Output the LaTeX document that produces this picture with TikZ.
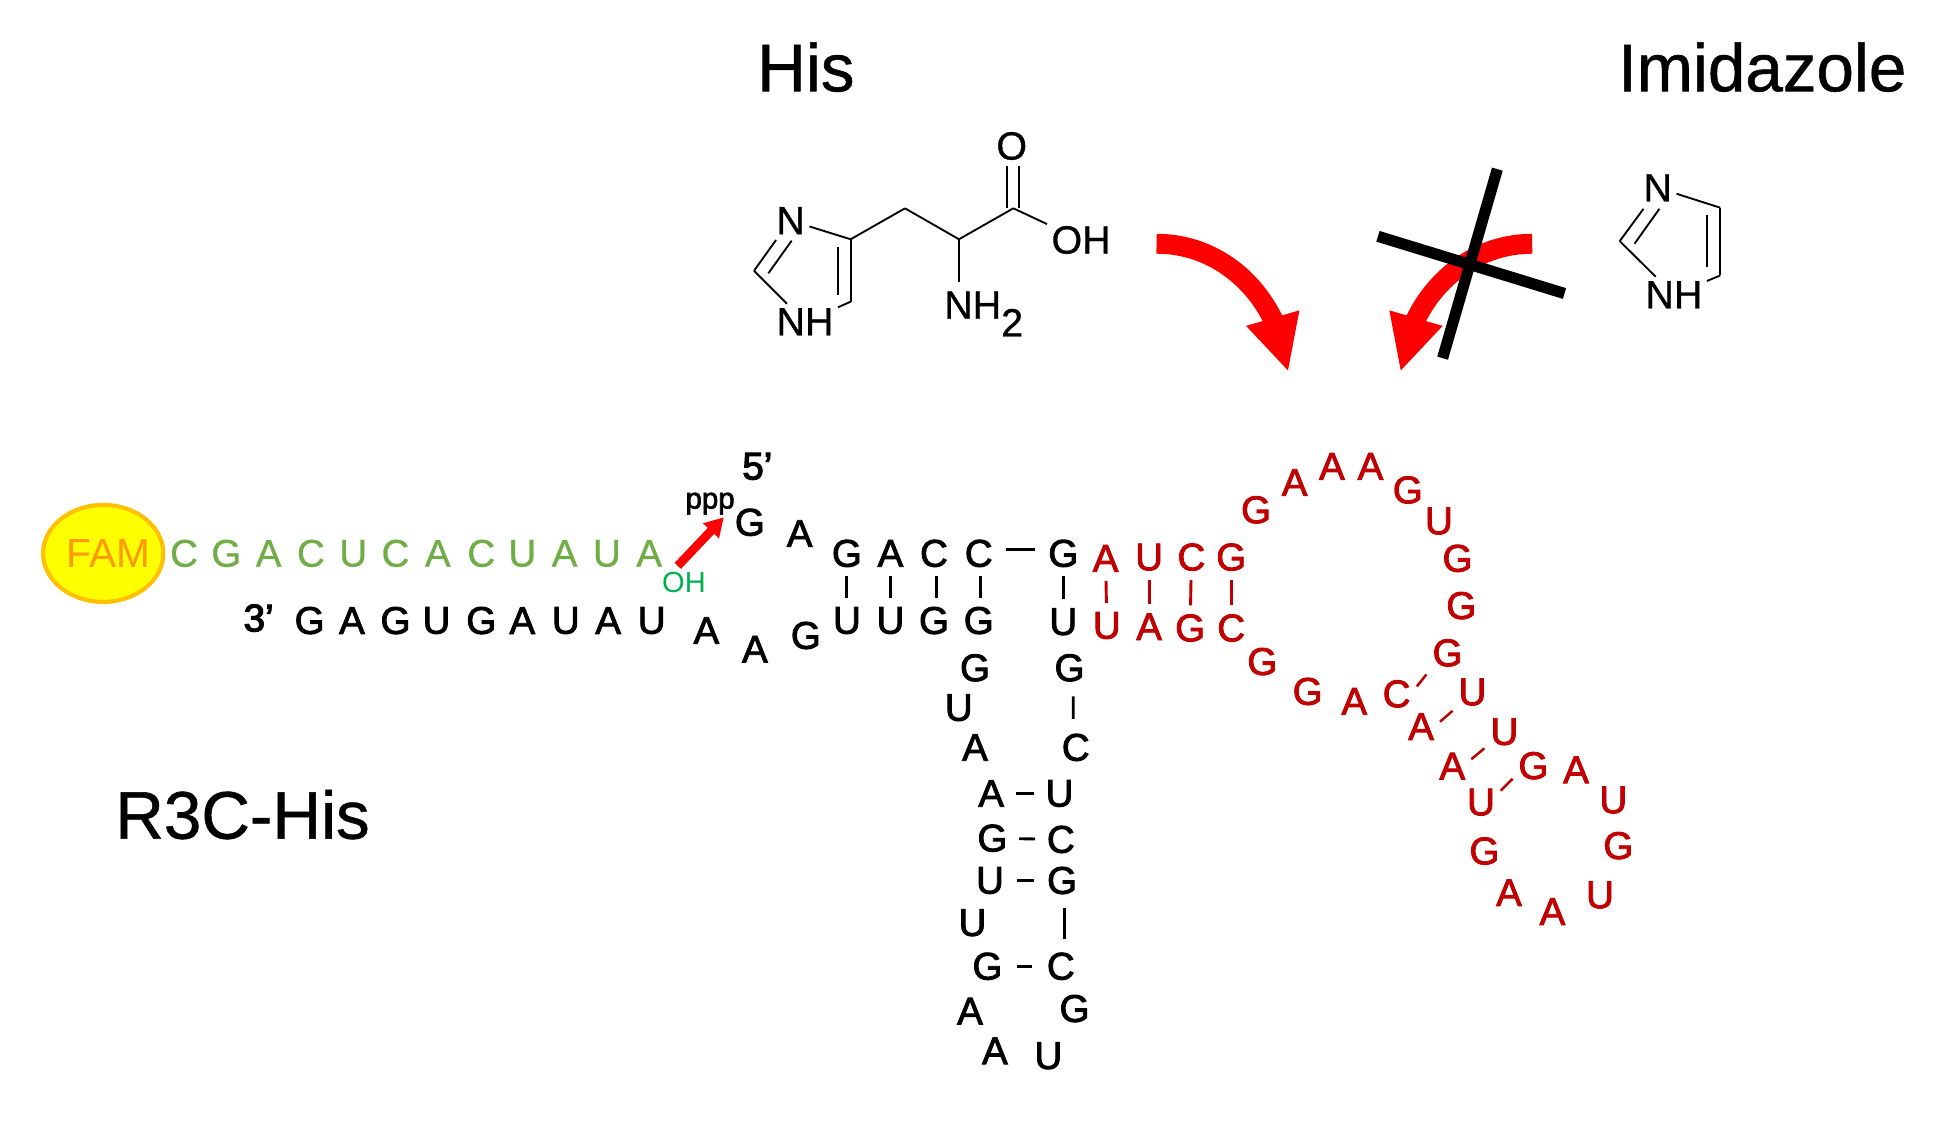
\documentclass[tikz,border=0pt]{standalone}
\usepackage{fontspec}
\usepackage{xcolor}
\usepackage{tikz}
\usetikzlibrary{arrows.meta,bending,shapes.geometric}
\setmainfont{Liberation Sans}
\newfontfamily\seqfont[FakeBold=2.2]{Liberation Sans}
\newfontfamily\endfont[FakeBold=3]{Liberation Sans}
\newfontfamily\softfont[FakeBold=0.8]{Liberation Sans}
\definecolor{leaf}{HTML}{70AD47}
\definecolor{oh}{HTML}{00B050}
\definecolor{deep}{HTML}{C00000}
\definecolor{famfill}{HTML}{FFFF00}
\definecolor{famline}{HTML}{FFC000}
\definecolor{famtext}{HTML}{FF9900}
\definecolor{hot}{HTML}{FF0000}

\begin{document}
\begin{tikzpicture}[x=0.6pt,y=-0.6pt]
\tikzset{k/.style={font=\seqfont\fontsize{18.6}{20}\selectfont,inner sep=0pt}, r/.style={k,text=deep}, g/.style={font=\softfont\fontsize{18.6}{20}\selectfont,inner sep=0pt,text=leaf}, title/.style={font=\softfont\fontsize{32.5}{36}\selectfont,inner sep=0pt}, atom/.style={font=\softfont\fontsize{19}{21}\selectfont,inner sep=2pt}, bond/.style={line width=0.9pt}, bp/.style={line width=1.4pt,shorten >=#1,shorten <=#1}, bpr/.style={bp=#1,color=deep}, big/.style={line width=9.6pt,color=hot,-{Triangle[length=27pt,width=24.6pt,flex]}}, bar/.style={line width=5.4pt}}
\useasboundingbox (0,0) rectangle (1568,909);
% titles
\node[title] (his) at (648,54) {His};
\node[title] (imi) at (1417,54) {Imidazole};
\node[title] (name) at (195,655) {R3C-His};
% histidine
\node[atom] (hn) at (635.8,177.4) {N}; \node[atom] (hnh) at (647.3,258.7) {NH}; \node[atom] (ho) at (813.5,117.4) {O}; \node[atom] (hoh) at (869.3,193) {OH};
\node[atom,inner sep=0pt] (hnt) at (791,252.5) {NH\raisebox{-0.45em}{2}};
\coordinate (hc4) at (684,192.4); \coordinate (hc5) at (684,242.6); \coordinate (hc2) at (606.3,217.7); \coordinate (hcb) at (727.7,167.5); \coordinate (hca) at (771.1,192.4); \coordinate (hcc) at (814.8,167.5);
\coordinate (hna) at (624,193); \coordinate (hnb) at (636.6,193.5); \coordinate (hc2i) at (617.8,219.8); \coordinate (hc4i) at (674.1,198.4); \coordinate (hc5i) at (674.1,237.2); \coordinate (hnte) at (771.1,226.5);
\coordinate (hcl) at (809.5,167.5); \coordinate (hcr) at (819.4,167.5); \coordinate (hol) at (809.5,133.5); \coordinate (hor) at (819.4,133.5);
\draw[bond] (hn)--(hc4);\draw[bond] (hc4)--(hc5);\draw[bond] (hc5)--(hnh);\draw[bond] (hnh)--(hc2);\draw[bond] (hc2)--(hna);\draw[bond] (hc2i)--(hnb);\draw[bond] (hc4i)--(hc5i);
\draw[bond] (hc4)--(hcb);\draw[bond] (hcb)--(hca);\draw[bond] (hca)--(hcc);\draw[bond] (hca)--(hnte);\draw[bond] (hcc)--(hoh);\draw[bond] (hcl)--(hol);\draw[bond] (hcr)--(hor);
% imidazole
\node[atom] (in) at (1333,151) {N}; \node[atom] (inh) at (1346,237) {NH};
\coordinate (ic2) at (1302.4,193.9); \coordinate (ic4) at (1383.2,167); \coordinate (ic5) at (1383.2,221.5); \coordinate (ina) at (1321.5,167.9); \coordinate (inb) at (1334.3,167.9); \coordinate (ic2i) at (1314.3,196); \coordinate (ic4i) at (1372.6,173.2); \coordinate (ic5i) at (1372.6,214.8);
\draw[bond] (in)--(ic4);\draw[bond] (ic4)--(ic5);\draw[bond] (ic5)--(inh);\draw[bond] (inh)--(ic2);\draw[bond] (ic2)--(ina);\draw[bond] (ic2i)--(inb);\draw[bond] (ic4i)--(ic5i);
% big arrows and the cross
\coordinate (la) at (930,196); \coordinate (lb) at (1036,299); \coordinate (ra) at (1232,196); \coordinate (rb) at (1126,299);
\draw[big] (la) .. controls (985,196) and (1029,240) .. (lb);
\draw[big] (ra) .. controls (1177,196) and (1133,240) .. (rb);
\coordinate (xa) at (1108,190); \coordinate (xb) at (1258,236); \coordinate (xc) at (1204,136); \coordinate (xd) at (1160,288);
\draw[bar] (xa)--(xb);\draw[bar] (xc)--(xd);
% FAM strand
\node[draw=famline,fill=famfill,line width=2pt,ellipse,minimum width=58pt,minimum height=46.8pt,inner sep=0pt,font=\fontsize{19.6}{21}\selectfont,text=famtext] (fam) at (83,445) {\makebox[0pt]{\hspace*{5pt}FAM}};
\node[g] (g1) at (148,445) {C}; \node[g] (g2) at (182,445) {G}; \node[g] (g3) at (216,445) {A}; \node[g] (g4) at (250,445) {C}; \node[g] (g5) at (284,445) {U}; \node[g] (g6) at (318,445) {C}; \node[g] (g7) at (352,445) {A}; \node[g] (g8) at (387,445) {C}; \node[g] (g9) at (420,445) {U}; \node[g] (g10) at (454,445) {A}; \node[g] (g11) at (488,445) {U}; \node[g] (g12) at (522,445) {A};
\node[font=\fontsize{14}{16}\selectfont,text=oh,inner sep=0pt] (ohg) at (550,468) {OH};
\node[font=\seqfont\fontsize{14.2}{16}\selectfont,inner sep=0pt] (ppp) at (571,405) {ppp};
\coordinate (oa) at (545,455); \coordinate (ob) at (582,416);
\draw[line width=4.2pt,hot,-{Triangle[length=9pt,width=10pt]}] (oa)--(ob);
% black strand
\node[font=\endfont\fontsize{18.6}{20}\selectfont,inner sep=0pt] (three) at (208,497) {3’}; \node[font=\endfont\fontsize{18.6}{20}\selectfont,inner sep=0pt] (five) at (609,375) {5’};
\node[k] (b1) at (249,499) {G}; \node[k] (b2) at (283,499) {A}; \node[k] (b3) at (318,499) {G}; \node[k] (b4) at (351,499) {U}; \node[k] (b5) at (387,499) {G}; \node[k] (b6) at (420,499) {A}; \node[k] (b7) at (455,499) {U}; \node[k] (b8) at (489,499) {A}; \node[k] (b9) at (524,499) {U}; \node[k] (b10) at (568,507) {A}; \node[k] (b11) at (607,522) {A}; \node[k] (b12) at (648,511) {G};
\node[k] (t1) at (603,420) {G}; \node[k] (t2) at (643,429) {A}; \node[k] (t3) at (681,445) {G}; \node[k] (t4) at (716,445) {A}; \node[k] (t5) at (751,445) {C}; \node[k] (t6) at (787,445) {C}; \node[k] (t7) at (855,445) {G};
\node[k] (u3) at (681,499) {U}; \node[k] (u4) at (716,499) {U}; \node[k] (u5) at (751,499) {G}; \node[k] (u6) at (787,499) {G}; \node[k] (u7) at (855,500) {U};
\draw[bp=4.2pt] (t3)--(u3);\draw[bp=4.2pt] (t4)--(u4);\draw[bp=4.2pt] ([xshift=1pt]t5.south)--([xshift=1pt]u5.north);\draw[bp=4.2pt] ([xshift=1pt]t6.south)--([xshift=1pt]u6.north);\draw[bp=4.2pt] (t7)--(u7);\draw[bp=6pt] ([yshift=2pt]t6.east)--([yshift=2pt]t7.west);
% lower stem
\node[k] (s1) at (784,537) {G}; \node[k] (s2) at (860,537) {G}; \node[k] (s3) at (771,569) {U}; \node[k] (s4) at (784,601) {A}; \node[k] (s5) at (865,601) {C}; \node[k] (s6) at (797,638) {A}; \node[k] (s7) at (852,638) {U}; \node[k] (s8) at (798,674) {G}; \node[k] (s9) at (853,675) {C}; \node[k] (s10) at (796,708) {U}; \node[k] (s11) at (854,708) {G}; \node[k] (s12) at (782,742) {U}; \node[k] (s13) at (794,777) {G}; \node[k] (s14) at (853,777) {C}; \node[k] (s15) at (780,813) {A}; \node[k] (s16) at (864,811) {G}; \node[k] (s17) at (800,845) {A}; \node[k] (s18) at (843,849) {U};
\draw[bp=7pt] ([xshift=1.8pt]s2.south)--([xshift=-1.2pt]s5.north);\draw[bp=5.5pt] (s6)--(s7);\draw[bp=5.5pt] (s8)--(s9);\draw[bp=6pt] (s10)--(s11);\draw[bp=6.5pt] ([xshift=1pt]s11.south)--([xshift=1.6pt]s14.north);\draw[bp=7pt] (s13)--(s14);
% red domain
\node[r] (r1) at (889,449) {A}; \node[r] (r2) at (924,448) {U}; \node[r] (r3) at (958,448) {C}; \node[r] (r4) at (990,448) {G};
\node[r] (q1) at (890,503) {U}; \node[r] (q2) at (924,504) {A}; \node[r] (q3) at (957,505) {G}; \node[r] (q4) at (990,505) {C};
\draw[bpr=4.2pt] (r1)--(q1);\draw[bpr=4.2pt] (r2)--(q2);\draw[bpr=4.2pt] (r3)--(q3);\draw[bpr=4.2pt] (r4)--(q4);
\node[r] (l1) at (1010,410) {G}; \node[r] (l2) at (1041,388) {A}; \node[r] (l3) at (1071,375) {A}; \node[r] (l4) at (1102,375) {A}; \node[r] (l5) at (1132,394) {G}; \node[r] (l6) at (1157,419) {U}; \node[r] (l7) at (1172,449) {G}; \node[r] (l8) at (1175,487) {G}; \node[r] (l9) at (1164,525) {G}; \node[r] (l10) at (1184,556.5) {U}; \node[r] (l11) at (1209.7,588.4) {U}; \node[r] (l12) at (1233,615.7) {G}; \node[r] (l13) at (1267.3,619) {A}; \node[r] (l14) at (1297.3,643.3) {U}; \node[r] (l15) at (1301.3,680) {G}; \node[r] (l16) at (1286.6,719.7) {U}; \node[r] (l17) at (1248.3,733) {A}; \node[r] (l18) at (1213.4,717.8) {A}; \node[r] (l19) at (1193.6,684.3) {G}; \node[r] (l20) at (1190.9,645) {U}; \node[r] (l21) at (1167.8,616) {A}; \node[r] (l22) at (1142.7,584.3) {A}; \node[r] (l23) at (1123,558) {C}; \node[r] (l24) at (1089,564) {A}; \node[r] (l25) at (1051.5,556) {G}; \node[r] (l26) at (1015,532) {G};
\draw[bpr=4.6pt,line width=1.2pt] (l23.east)--(l9.south west);\draw[bpr=3.6pt,line width=1.2pt] (l22.east)--(l10.south west);\draw[bpr=3.6pt,line width=1.2pt] ([yshift=1pt]l21.east)--([yshift=1pt]l11.south west);\draw[bpr=3.6pt,line width=1.2pt] ([yshift=3pt]l20.east)--([yshift=3pt]l12.south west);
\end{tikzpicture}
\end{document}
